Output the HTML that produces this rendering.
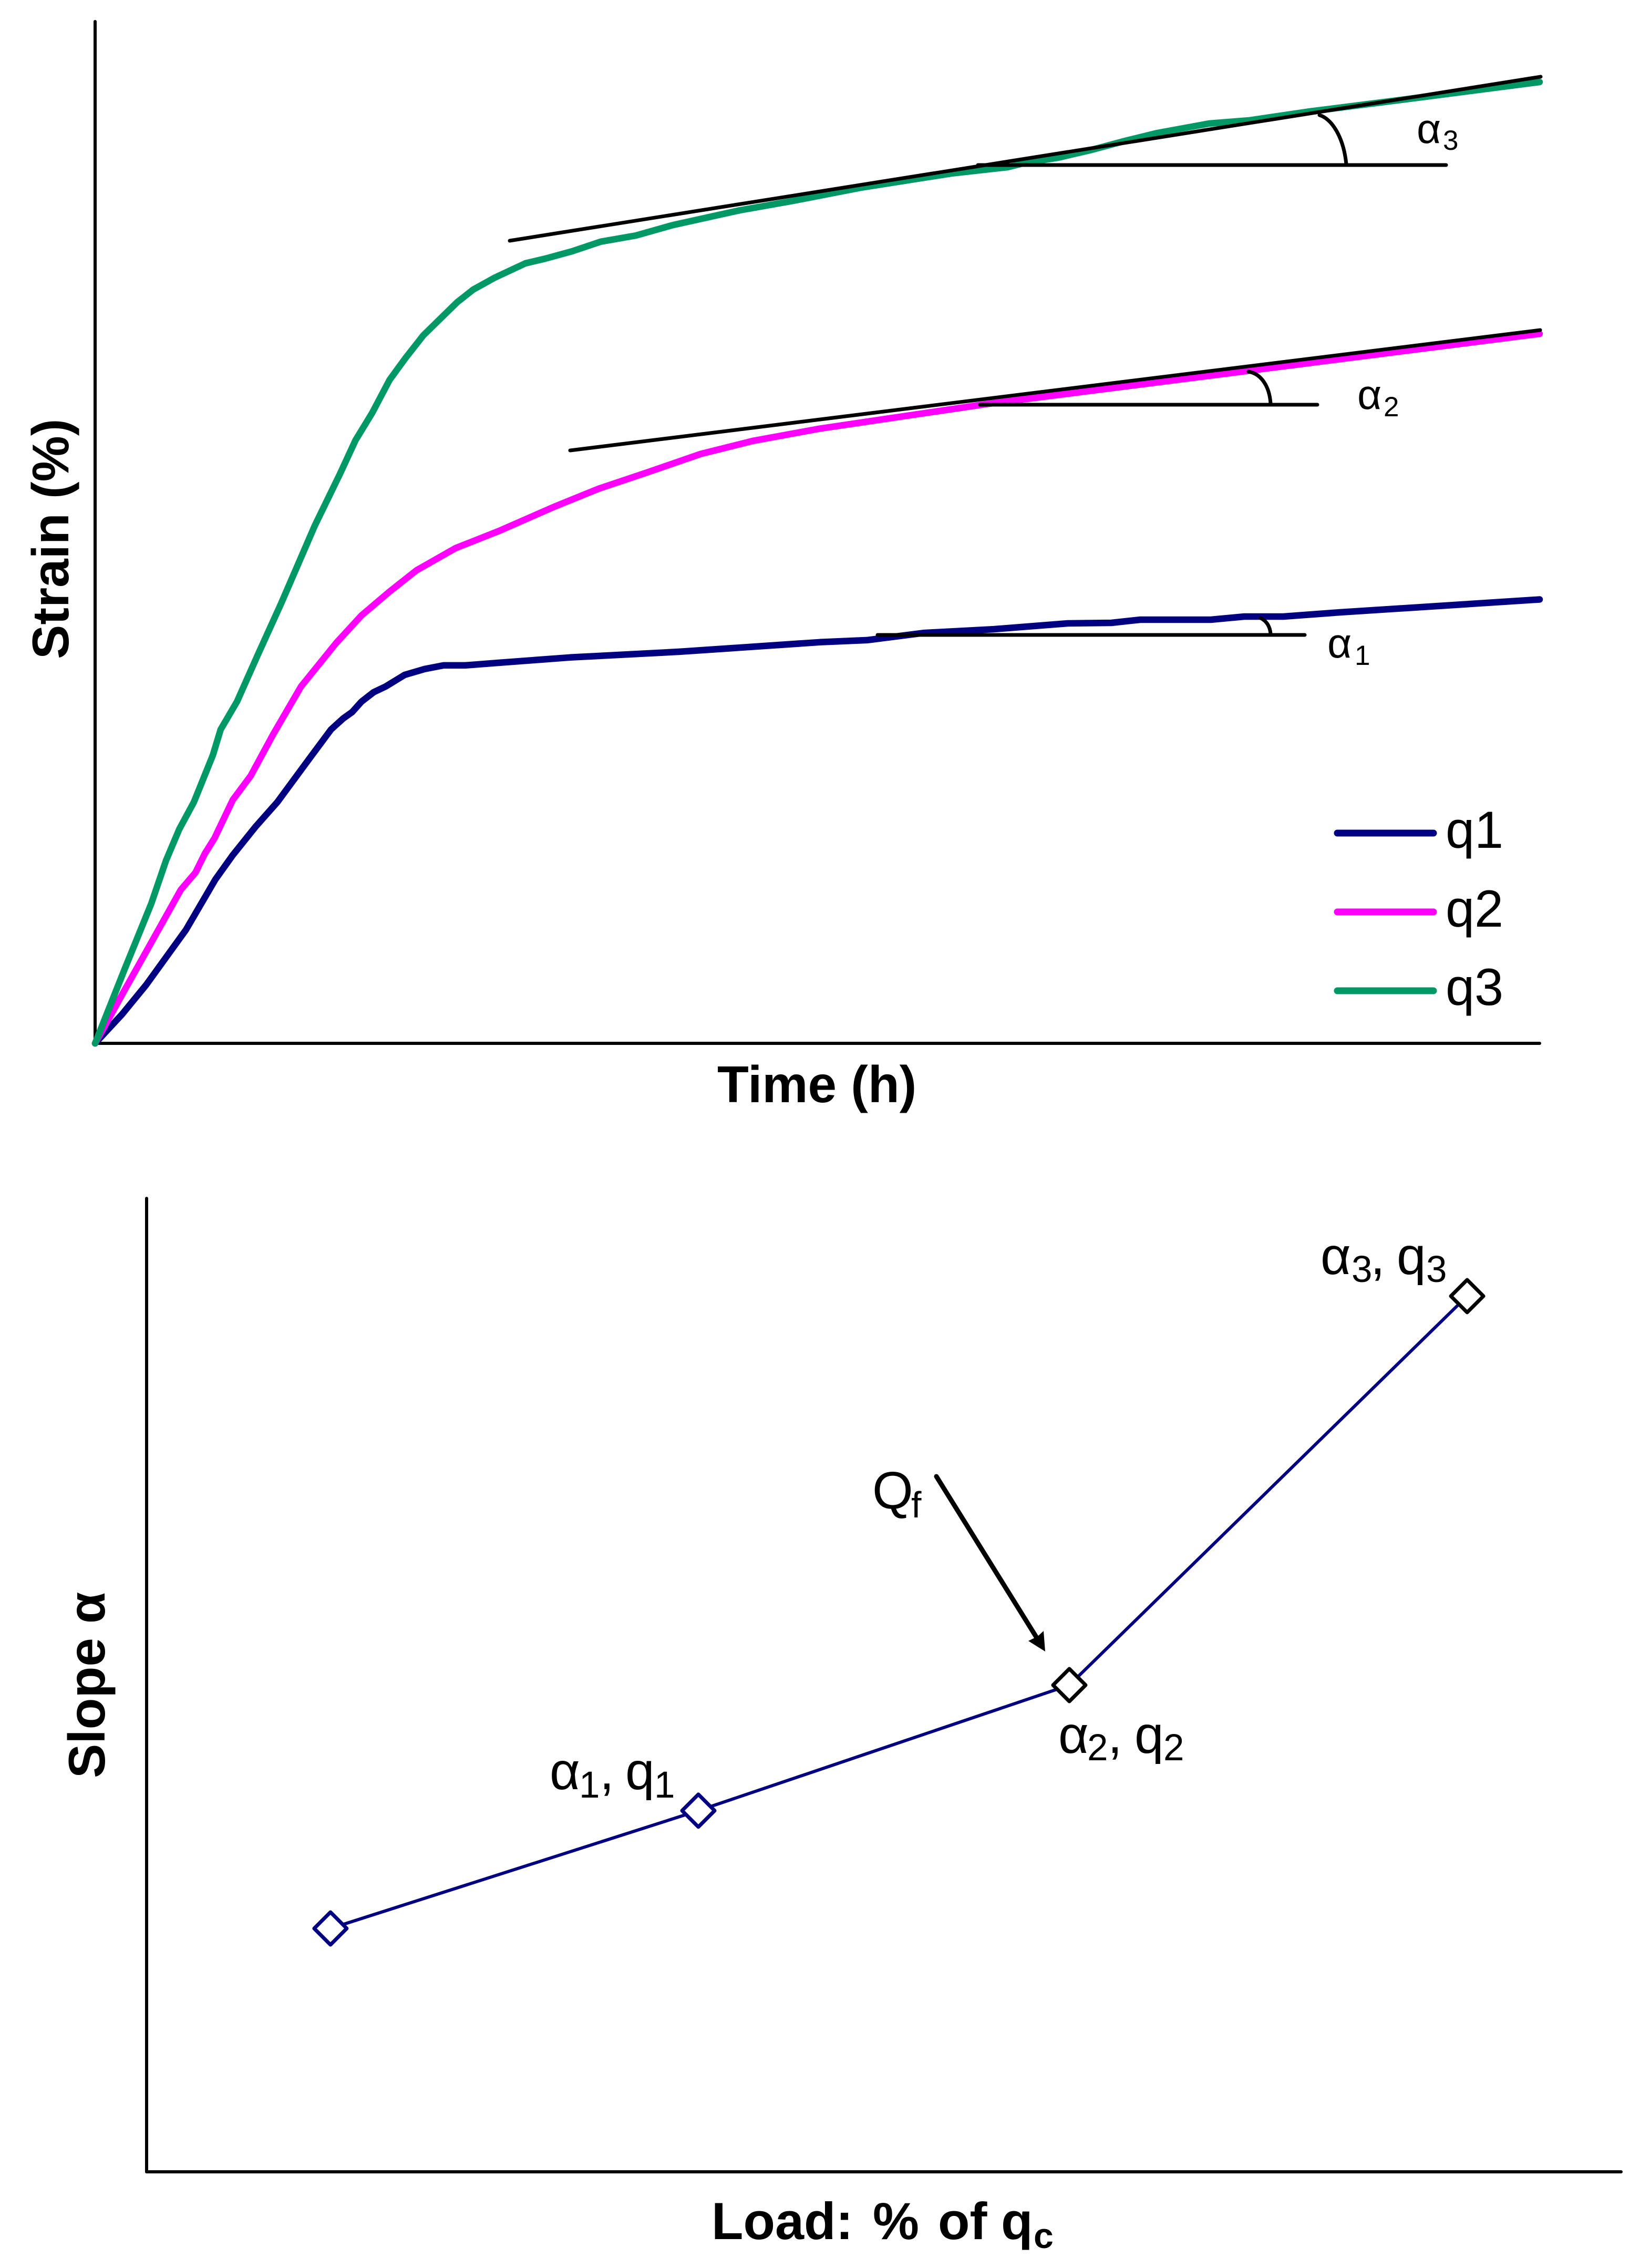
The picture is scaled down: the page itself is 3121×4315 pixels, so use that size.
<!DOCTYPE html>
<html lang="en">
<head>
<meta charset="utf-8">
<title>Strain versus time and slope versus load</title>
<style>
html,body{margin:0;padding:0;background:#fff;}
svg{display:block;}
text{font-family:"Liberation Sans",sans-serif;fill:#000;}
.b{font-weight:bold;}
</style>
</head>
<body>
<svg id="fig" xmlns="http://www.w3.org/2000/svg" width="3121" height="4315" viewBox="0 0 3121 4315">
  <rect x="0" y="0" width="3121" height="4315" fill="#fff"/>

  <g id="top-chart">
    <line x1="181" y1="41" x2="181" y2="1985" stroke="#000" stroke-width="6" stroke-linecap="round"/>
    <line x1="181" y1="1985" x2="2930" y2="1985" stroke="#000" stroke-width="6" stroke-linecap="round"/>
    <g id="curves"></g>

    <line x1="970" y1="458" x2="2932" y2="146" stroke="#000" stroke-width="7" stroke-linecap="round"/>
    <line x1="1085" y1="857" x2="2931" y2="628" stroke="#000" stroke-width="7" stroke-linecap="round"/>
    <line x1="1861" y1="314" x2="2752" y2="314" stroke="#000" stroke-width="7" stroke-linecap="round"/>
    <line x1="1865" y1="770" x2="2507" y2="770" stroke="#000" stroke-width="7" stroke-linecap="round"/>
    <line x1="1670" y1="1208" x2="2483" y2="1208" stroke="#000" stroke-width="7" stroke-linecap="round"/>
    <path d="M2511 219 C2535 226 2557 262 2562 312" fill="none" stroke="#000" stroke-width="7" stroke-linecap="round"/>
    <path d="M2376 707 C2400 711 2416 735 2418 768" fill="none" stroke="#000" stroke-width="7" stroke-linecap="round"/>
    <path d="M2399 1176 C2410 1181 2417 1192 2418 1206" fill="none" stroke="#000" stroke-width="7" stroke-linecap="round"/>

    <text font-size="80"><tspan x="2696" y="272">α</tspan><tspan x="2746" y="285" font-size="53">3</tspan></text>
    <text font-size="80"><tspan x="2583" y="778">α</tspan><tspan x="2633" y="792" font-size="53">2</tspan></text>
    <text font-size="80"><tspan x="2526" y="1251">α</tspan><tspan x="2578" y="1265" font-size="53">1</tspan></text>

    <g>
      <line x1="2545" y1="1585" x2="2728" y2="1585" stroke="#000080" stroke-width="13" stroke-linecap="round"/>
      <text x="2751" y="1613" font-size="99">q1</text>
      <line x1="2545" y1="1735" x2="2728" y2="1735" stroke="#ff00ff" stroke-width="13" stroke-linecap="round"/>
      <text x="2751" y="1763" font-size="99">q2</text>
      <line x1="2545" y1="1885" x2="2728" y2="1885" stroke="#009966" stroke-width="13" stroke-linecap="round"/>
      <text x="2751" y="1912" font-size="99">q3</text>
    </g>

    <text class="b" font-size="98" transform="translate(130 1254) rotate(-90)" x="0" y="0">Strain (%)</text>
    <text class="b" x="1365" y="2097" font-size="98">Time (h)</text>
  </g>

  <g id="bottom-chart">
    <line x1="279" y1="2280" x2="279" y2="4132" stroke="#000" stroke-width="6" stroke-linecap="round"/>
    <line x1="279" y1="4132" x2="3085" y2="4132" stroke="#000" stroke-width="6" stroke-linecap="round"/>
    <g id="slope-series"></g>

    <text font-size="100"><tspan x="1046" y="3404">α</tspan><tspan x="1102" y="3420" font-size="71">1</tspan><tspan x="1141" y="3404">,</tspan><tspan x="1190" y="3404">q</tspan><tspan x="1245" y="3420" font-size="71">1</tspan></text>
    <text font-size="100"><tspan x="2014" y="3335">α</tspan><tspan x="2069" y="3349" font-size="71">2</tspan><tspan x="2108" y="3335">,</tspan><tspan x="2159" y="3335">q</tspan><tspan x="2214" y="3349" font-size="71">2</tspan></text>
    <text font-size="100"><tspan x="2513" y="2424">α</tspan><tspan x="2572" y="2439" font-size="71">3</tspan><tspan x="2608" y="2424">,</tspan><tspan x="2658" y="2424">q</tspan><tspan x="2714" y="2439" font-size="71">3</tspan></text>

    <text font-size="100"><tspan x="1660" y="2870">Q</tspan><tspan x="1734" y="2887" font-size="70">f</tspan></text>
    <line x1="1782" y1="2809" x2="1973" y2="3116" stroke="#000" stroke-width="9" stroke-linecap="round"/>
    <polygon points="1989,3142 1957,3122 1975,3113 1986,3103" fill="#000"/>

    <text class="b" font-size="98" transform="translate(199 3383) rotate(-90)" x="0" y="0">Slope α</text>
    <text class="b" font-size="99"><tspan x="1354" y="4260">Load:</tspan><tspan x="1661" y="4260">%</tspan><tspan x="1785" y="4260">of</tspan><tspan x="1905" y="4260">q</tspan><tspan x="1967" y="4277" font-size="68">c</tspan></text>
  </g>
</svg>

<script>
// Strain-time chart data (relative units, 0-100 on each axis)
const timeQ1 = [0,1.86,3.53,6.29,8.33,9.53,11.13,12.62,14.84,16.33,17.17,17.79,18.44,19.28,20.12,21.43,22.81,24.12,25.61,28.16,32.87,40.47,50.17,53.44,57.40,62.20,67.33,70.35,72.35,77.23,79.56,82.25,86.18,100];
const strainQ1 = [0,2.83,5.71,11.11,16.05,18.42,21.24,23.61,27.88,30.71,31.79,32.41,33.44,34.36,34.93,36.06,36.63,36.99,36.99,37.27,37.77,38.33,39.26,39.46,40.17,40.53,41.10,41.15,41.46,41.46,41.77,41.77,42.18,43.44];

const timeQ2 = [0,2.04,4.26,5.93,6.95,7.60,8.26,9.53,10.77,12.33,14.26,16.70,18.44,20.41,22.26,24.95,27.97,31.78,34.86,38.30,41.92,45.54,50.17,61.74,100];
const strainQ2 = [0,5.20,10.80,15.02,16.72,18.57,20.06,23.82,26.18,30.25,34.93,39.20,41.87,44.24,46.30,48.46,50.15,52.51,54.28,55.91,57.68,58.96,60.16,62.57,69.44];

const timeQ3 = [0,2.04,3.89,4.91,5.82,6.84,8.15,8.69,9.82,11.31,12.88,15.21,16.94,18.03,19.19,20.38,21.47,22.73,25.09,26.17,27.62,29.79,31.17,33.03,34.99,37.43,40.01,44.63,48.34,53.00,59.26,63.19,64.35,66.68,69.00,71.30,73.52,77.12,79.88,84.07,91.27,100];
const strainQ3 = [0,7.25,13.68,17.90,20.94,23.61,28.19,30.71,33.44,38.17,43.06,50.67,55.70,59.03,61.72,64.91,67.03,69.30,72.56,73.76,74.90,76.34,76.80,77.52,78.45,79.06,80.09,81.53,82.46,83.74,85.13,85.75,86.16,86.68,87.45,88.32,89.09,90.02,90.33,91.20,92.49,94.08];

// Slope-load chart data (relative units, 0-100 on each axis)
const loadValues = [12.47,37.42,62.58,89.56];
const slopeValues = [25.0,37.1,50.0,89.96];

const NS = 'http://www.w3.org/2000/svg';

function timeX(t){ return 181 + t * 27.49; }
function strainY(s){ return 1985 - s * 19.44; }
function loadX(l){ return 279 + l * 28.06; }
function slopeY(s){ return 4132 - s * 18.52; }

function drawCurve(times, strains, color, name, parent){
  const p = document.createElementNS(NS, 'polyline');
  const pts = times.map(function(t, i){
    return timeX(t).toFixed(1) + ',' + strainY(strains[i]).toFixed(1);
  });
  p.setAttribute('points', pts.join(' '));
  p.setAttribute('fill', 'none');
  p.setAttribute('stroke', color);
  p.setAttribute('stroke-width', '12.5');
  p.setAttribute('stroke-linejoin', 'round');
  p.setAttribute('stroke-linecap', 'round');
  
  
  parent.appendChild(p);
}
const curveGroup = document.getElementById('curves');
drawCurve(timeQ1, strainQ1, '#000080', 'curve-q1', curveGroup);
drawCurve(timeQ2, strainQ2, '#ff00ff', 'curve-q2', curveGroup);
drawCurve(timeQ3, strainQ3, '#009966', 'curve-q3', curveGroup);

const slopeGroup = document.getElementById('slope-series');
const slopeLine = document.createElementNS(NS, 'polyline');
slopeLine.setAttribute('points', loadValues.map(function(l, i){
  return loadX(l).toFixed(1) + ',' + slopeY(slopeValues[i]).toFixed(1);
}).join(' '));
slopeLine.setAttribute('fill', 'none');
slopeLine.setAttribute('stroke', '#000080');
slopeLine.setAttribute('stroke-width', '6');


slopeGroup.appendChild(slopeLine);

loadValues.forEach(function(l, i){
  const cx = loadX(l);
  const cy = slopeY(slopeValues[i]);
  const r = 31;
  const d = document.createElementNS(NS, 'polygon');
  d.setAttribute('points', [cx - r, cy, cx, cy - r, cx + r, cy, cx, cy + r].join(' '));
  d.setAttribute('fill', '#fff');
  d.setAttribute('stroke', i < 2 ? '#000080' : '#000');
  d.setAttribute('stroke-width', '7');
  d.setAttribute('stroke-linejoin', 'round');
  
  
  slopeGroup.appendChild(d);
});
</script>
</body>
</html>
